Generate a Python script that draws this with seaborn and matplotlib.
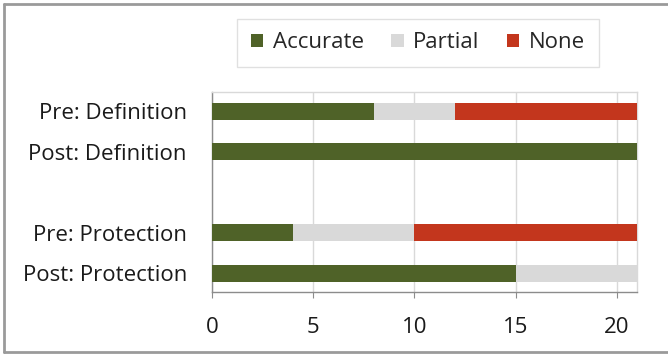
import matplotlib
matplotlib.use("Agg")
import matplotlib.pyplot as plt
from matplotlib.patches import Patch
from matplotlib.lines import Line2D
import pandas as pd
import seaborn as sns

# Survey responses per question and phase
categories = ["Pre: Definition", "Post: Definition", " ", "Pre: Protection", "Post: Protection"]
accurate = [8, 21, 0, 4, 15]
partial = [4, 0, 0, 6, 6]
none = [9, 0, 0, 11, 0]
series_names = ["Accurate", "Partial", "None"]
series_colors = ["#4f6228", "#d9d9d9", "#c3361d"]
x_ticks = [0, 5, 10, 15, 20]

sns.set_style("white")
plt.rcParams["font.family"] = ["Open Sans", "DejaVu Sans"]
FS = 16

df = pd.DataFrame({"category": categories, "Accurate": accurate,
                   "Partial": partial, "None": none})
# Cumulative ends of each stacked segment
df["end_acc"] = df["Accurate"]
df["end_par"] = df["Accurate"] + df["Partial"]
df["end_none"] = df["end_par"] + df["None"]

fig = plt.figure(figsize=(6.68, 3.56), dpi=100)
ax = fig.add_axes([212 / 668, 1 - 292 / 356, 425 / 668, 200 / 356])

# Draw longest cumulative first so shorter segments sit on top
for col, color in zip(["end_none", "end_par", "end_acc"], series_colors[::-1]):
    sns.barplot(data=df, x=col, y="category", order=categories, color=color,
                orient="h", width=0.42, saturation=1, ax=ax, zorder=3,
                edgecolor="none", linewidth=0)

ax.set_xlim(0, 21)
ax.set_ylim(4.46, -0.48)
ax.set_xticks(x_ticks)
ax.set_xlabel("")
ax.set_ylabel("")
ax.grid(axis="x", color="#d9d9d9", linewidth=1, zorder=0)
ax.grid(axis="y", visible=False)

for side in ["top", "right"]:
    ax.spines[side].set_visible(True)
    ax.spines[side].set_color("#d9d9d9")
    ax.spines[side].set_linewidth(1)
for side in ["left", "bottom"]:
    ax.spines[side].set_color("#8c8c8c")
    ax.spines[side].set_linewidth(1)

ax.tick_params(axis="x", which="both", bottom=True, length=4.3, width=0.8,
               color="#8c8c8c", pad=14, labelsize=FS, labelcolor="#1a1a1a")
ax.tick_params(axis="y", length=0, pad=18, labelsize=FS, labelcolor="#1a1a1a")

handles = [Patch(facecolor=c, edgecolor="none") for c in series_colors]
leg = fig.legend(handles, series_names, loc="center", ncol=3,
                 bbox_to_anchor=(418 / 668, 1 - 43 / 356), frameon=True,
                 fontsize=FS, handlelength=0.55, handleheight=0.55,
                 handletextpad=0.42, columnspacing=1.25, borderpad=0.62,
                 borderaxespad=0, fancybox=False)
leg.get_frame().set_edgecolor("#d9d9d9")
leg.get_frame().set_linewidth(1)

# Outer chart border
for xs, ys in [([4, 668], [352, 352]), ([4, 668], [4, 4]), ([4, 4], [4, 352])]:
    fig.add_artist(Line2D([x / 668 for x in xs], [1 - y / 356 for y in ys],
                          color="#9a9a9a", linewidth=2, transform=fig.transFigure))

fig.savefig("out.png", dpi=100)
